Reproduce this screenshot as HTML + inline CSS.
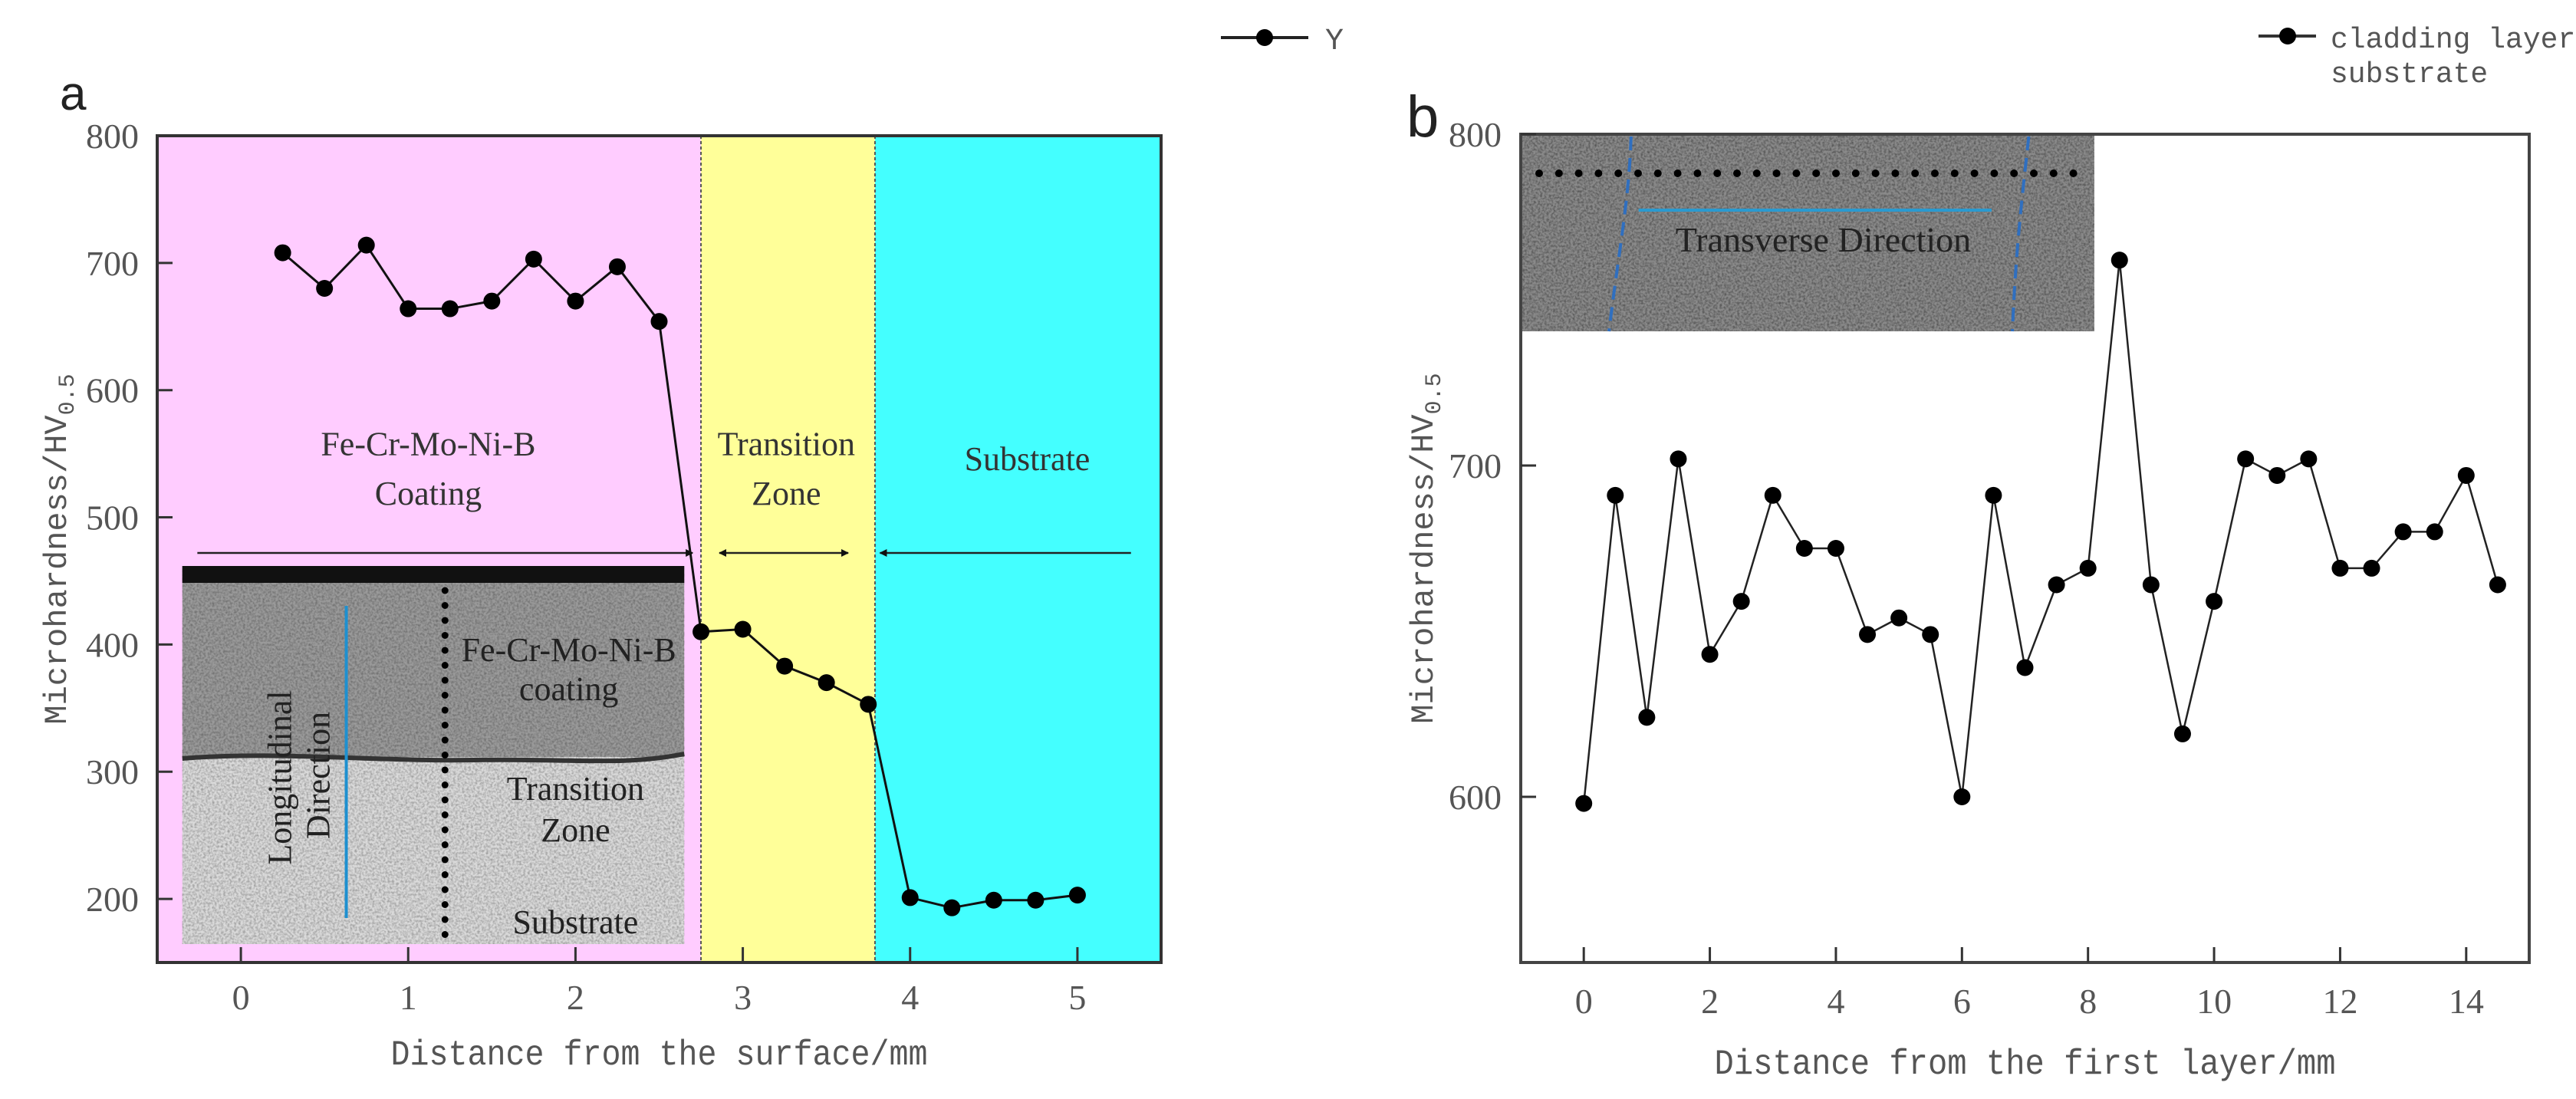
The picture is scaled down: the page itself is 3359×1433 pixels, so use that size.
<!DOCTYPE html>
<html><head><meta charset="utf-8"><style>
html,body{margin:0;padding:0;background:#fff;}
svg{display:block;}
.tick{font-family:"Liberation Serif",serif;font-size:46px;fill:#555;}
.mono{font-family:"Liberation Mono",monospace;fill:#555;}
.ser{font-family:"Liberation Serif",serif;}
</style></head><body>
<svg id="fig" width="3359" height="1433" viewBox="0 0 3359 1433" xmlns="http://www.w3.org/2000/svg">
<defs>
<filter id="noise" x="0" y="0" width="100%" height="100%">
<feTurbulence type="fractalNoise" baseFrequency="0.35" numOctaves="2" seed="3"/>
<feColorMatrix type="matrix" values="0 0 0 0 0  0 0 0 0 0  0 0 0 0 0  0 0 0 -1.4 0.9"/>
</filter>
<marker id="ah" markerWidth="10" markerHeight="10" refX="9" refY="5" orient="auto-start-reverse" markerUnits="userSpaceOnUse"><path d="M0,0 L10,5 L0,10 z" fill="#111"/></marker>
</defs>
<g id="chartA"></g>
<g id="chartB"></g>
</svg>
<script>
const aX=[0.25,0.5,0.75,1,1.25,1.5,1.75,2,2.25,2.5,2.75,3,3.25,3.5,3.75,4,4.25,4.5,4.75,5];
const aY=[708,680,714,664,664,670,703,670,697,654,410,412,383,370,353,201,193,199,199,203];
const aXTicks=[0,1,2,3,4,5];
const aYTicks=[200,300,400,500,600,700,800];
const aZoneBounds=[2.75,3.79];
const bX=[0,0.5,1,1.5,2,2.5,3,3.5,4,4.5,5,5.5,6,6.5,7,7.5,8,8.5,9,9.5,10,10.5,11,11.5,12,12.5,13,13.5,14,14.5];
const bY=[598,691,624,702,643,659,691,675,675,649,654,649,600,691,639,664,669,762,664,619,659,702,697,702,669,669,680,680,697,664];
const bXTicks=[0,2,4,6,8,10,12,14];
const bYTicks=[600,700,800];

const NS="http://www.w3.org/2000/svg";
function el(parent,tag,attrs,text){const e=document.createElementNS(NS,tag);for(const k in attrs)e.setAttribute(k,attrs[k]);if(text!==undefined)e.textContent=text;parent.appendChild(e);return e;}

// ---------- Chart A ----------
const A={L:205,R:1514,T:177,B:1255,x0:-0.5,x1:5.5,y0:150,y1:800};
const ax=v=>A.L+(v-A.x0)/(A.x1-A.x0)*(A.R-A.L);
const ay=v=>A.B-(v-A.y0)/(A.y1-A.y0)*(A.B-A.T);
const gA=document.getElementById('chartA');
let r;
r=el(gA,'rect',{x:A.L,y:A.T,width:ax(aZoneBounds[0])-A.L,height:A.B-A.T,fill:'#ffccff'});

r=el(gA,'rect',{x:ax(aZoneBounds[0]),y:A.T,width:ax(aZoneBounds[1])-ax(aZoneBounds[0]),height:A.B-A.T,fill:'#ffff99'});

r=el(gA,'rect',{x:ax(aZoneBounds[1]),y:A.T,width:A.R-ax(aZoneBounds[1]),height:A.B-A.T,fill:'#44ffff'});

aZoneBounds.forEach(b=>{const l=el(gA,'line',{x1:ax(b),x2:ax(b),y1:A.T,y2:A.B,stroke:'#555','stroke-width':2,'stroke-dasharray':'4,3'});
});

// inset photo a
const ia=el(gA,'g',{});

const IL=ax(-0.35),IR=ax(2.65),IT=738,IB=1231,IF=987;
el(ia,'rect',{x:IL,y:IT,width:IR-IL,height:IF-IT,fill:'#9a9a9a'});
el(ia,'rect',{x:IL,y:IF,width:IR-IL,height:IB-IF,fill:'#dadada'});
el(ia,'rect',{x:IL,y:IT,width:IR-IL,height:IB-IT,filter:'url(#noise)',opacity:0.4});
el(ia,'rect',{x:IL,y:IT,width:IR-IL,height:22,fill:'#111'});
el(ia,'path',{d:`M${IL},${IF+2} C${IL+120},${IF-8} ${IL+250},${IF+6} ${IL+380},${IF+4} S${IR-80},${IF+12} ${IR},${IF-4}`,stroke:'#333','stroke-width':6,fill:'none'});
el(ia,'line',{x1:ax(0.63),x2:ax(0.63),y1:790,y2:1197,stroke:'#1e90d0','stroke-width':4});
for(let y=770;y<=1229;y+=19.5) el(ia,'circle',{cx:ax(1.22),cy:y,r:4.5,fill:'#000'});
const tI=[["Fe-Cr-Mo-Ni-B",1.96,862],["coating",1.96,913],["Transition",2.0,1043],["Zone",2.0,1097],["Substrate",2.0,1217]];
tI.forEach(t=>{const e=el(ia,'text',{x:ax(t[1]),y:t[2],'text-anchor':'middle','font-size':44,fill:'#222',class:'ser'},t[0]);
});
let lt=el(ia,'text',{x:0,y:0,'text-anchor':'middle','font-size':44,fill:'#222',class:'ser',transform:`translate(${ax(0.3)},1014) rotate(-90)`},'Longitudinal');

lt=el(ia,'text',{x:0,y:0,'text-anchor':'middle','font-size':44,fill:'#222',class:'ser',transform:`translate(${ax(0.53)},1011) rotate(-90)`},'Direction');


// zone labels & arrows
const zl=[["Fe-Cr-Mo-Ni-B",1.12,558],["Coating",1.12,519],["Transition",3.26,558],["Zone",3.26,519],["Substrate",4.70,546]];
zl.forEach(z=>{const e=el(gA,'text',{x:ax(z[1]),y:ay(z[2])+15,'text-anchor':'middle','font-size':44,fill:'#333',class:'ser'},z[0]);
});
const arrY=ay(472);
let ar=el(gA,'line',{x1:ax(-0.26),x2:ax(2.7),y1:arrY,y2:arrY,stroke:'#222','stroke-width':2.5,'marker-end':'url(#ah)'});

ar=el(gA,'line',{x1:ax(2.86),x2:ax(3.63),y1:arrY,y2:arrY,stroke:'#222','stroke-width':2.5,'marker-end':'url(#ah)','marker-start':'url(#ah)'});

ar=el(gA,'line',{x1:ax(5.32),x2:ax(3.82),y1:arrY,y2:arrY,stroke:'#222','stroke-width':2.5,'marker-end':'url(#ah)'});


// series a
let pa=el(gA,'polyline',{points:aX.map((x,i)=>ax(x)+','+ay(aY[i])).join(' '),fill:'none',stroke:'#111','stroke-width':3});

aX.forEach((x,i)=>{const c=el(gA,'circle',{cx:ax(x),cy:ay(aY[i]),r:11,fill:'#000'});
});

// axes a
let fr=el(gA,'rect',{x:A.L,y:A.T,width:A.R-A.L,height:A.B-A.T,fill:'none',stroke:'#333','stroke-width':4});

aXTicks.forEach(t=>{el(gA,'line',{x1:ax(t),x2:ax(t),y1:A.B,y2:A.B-20,stroke:'#333','stroke-width':3});
const e=el(gA,'text',{x:ax(t),y:A.B+61,'text-anchor':'middle',class:'tick'},t);
});
aYTicks.forEach(t=>{el(gA,'line',{x1:A.L,x2:A.L+20,y1:ay(t),y2:ay(t),stroke:'#333','stroke-width':3});
const e=el(gA,'text',{x:181,y:ay(t)+16,'text-anchor':'end',class:'tick'},t);
});
let xt=el(gA,'text',{x:ax(2.5),y:1388,'text-anchor':'middle','font-size':46,class:'mono',textLength:700,lengthAdjust:'spacingAndGlyphs'},'Distance from the surface/mm');

let yt=el(gA,'text',{x:0,y:0,'text-anchor':'middle','font-size':42,class:'mono',transform:`translate(86,${(A.T+A.B)/2}) rotate(-90)`});
yt.innerHTML='Microhardness/HV<tspan font-size="30" dy="10">0.5</tspan>';

let pl=el(gA,'text',{x:78,y:143,'font-size':62,fill:'#222','font-family':'Liberation Sans, sans-serif'},'a');

// legend a
const lgA=el(gA,'g',{});

el(lgA,'line',{x1:1592,x2:1706,y1:49,y2:49,stroke:'#222','stroke-width':4});
el(lgA,'circle',{cx:1649,cy:49,r:11,fill:'#000'});
el(lgA,'text',{x:1728,y:64,'font-size':40,class:'mono'},'Y');

// ---------- Chart B ----------
const B={L:1983,R:3298,T:175,B:1255,x0:-1,x1:15,y0:550,y1:800};
const bx=v=>B.L+(v-B.x0)/(B.x1-B.x0)*(B.R-B.L);
const by=v=>B.B-(v-B.y0)/(B.y1-B.y0)*(B.B-B.T);
const gB=document.getElementById('chartB');
const ib=el(gB,'g',{});

const BIR=bx(8.1);
el(ib,'rect',{x:B.L,y:B.T,width:BIR-B.L,height:432-B.T,fill:'#8a8a8a'});
el(ib,'rect',{x:B.L,y:B.T,width:BIR-B.L,height:432-B.T,filter:'url(#noise)',opacity:0.55});
for(let x=2007;x<=bx(7.84);x+=25.8) el(ib,'circle',{cx:x,cy:226,r:5,fill:'#000'});
el(ib,'line',{x1:bx(0.87),x2:bx(6.47),y1:274,y2:274,stroke:'#2a9ad0','stroke-width':4});
el(ib,'path',{d:`M${bx(0.75)},178 C${bx(0.72)},260 ${bx(0.55)},330 ${bx(0.4)},432`,stroke:'#2f6fc0','stroke-width':4,fill:'none','stroke-dasharray':'18,10'});
el(ib,'path',{d:`M${bx(7.06)},178 C${bx(6.95)},260 ${bx(6.85)},330 ${bx(6.8)},432`,stroke:'#2f6fc0','stroke-width':4,fill:'none','stroke-dasharray':'18,10'});
let tt=el(ib,'text',{x:bx(3.8),y:328,'text-anchor':'middle','font-size':46,fill:'#222',class:'ser'},'Transverse Direction');


let pb=el(gB,'polyline',{points:bX.map((x,i)=>bx(x)+','+by(bY[i])).join(' '),fill:'none',stroke:'#222','stroke-width':2.5});

bX.forEach((x,i)=>{const c=el(gB,'circle',{cx:bx(x),cy:by(bY[i]),r:11,fill:'#000'});
});

fr=el(gB,'rect',{x:B.L,y:B.T,width:B.R-B.L,height:B.B-B.T,fill:'none',stroke:'#444','stroke-width':4});

bXTicks.forEach(t=>{el(gB,'line',{x1:bx(t),x2:bx(t),y1:B.B,y2:B.B-20,stroke:'#333','stroke-width':3});
const e=el(gB,'text',{x:bx(t),y:B.B+66,'text-anchor':'middle',class:'tick'},t);
});
bYTicks.forEach(t=>{el(gB,'line',{x1:B.L,x2:B.L+20,y1:by(t),y2:by(t),stroke:'#333','stroke-width':3});
const e=el(gB,'text',{x:1958,y:by(t)+16,'text-anchor':'end',class:'tick'},t);
});
xt=el(gB,'text',{x:bx(7),y:1400,'text-anchor':'middle','font-size':46,class:'mono',textLength:810,lengthAdjust:'spacingAndGlyphs'},'Distance from the first layer/mm');

yt=el(gB,'text',{x:0,y:0,'text-anchor':'middle','font-size':42,class:'mono',transform:`translate(1868,${(B.T+B.B)/2}) rotate(-90)`});
yt.innerHTML='Microhardness/HV<tspan font-size="30" dy="10">0.5</tspan>';

pl=el(gB,'text',{x:1834,y:178,'font-size':76,fill:'#222','font-family':'Liberation Sans, sans-serif'},'b');

const lgB=el(gB,'g',{});

el(lgB,'line',{x1:2945,x2:3020,y1:47,y2:47,stroke:'#333','stroke-width':4});
el(lgB,'circle',{cx:2983,cy:47,r:11,fill:'#000'});
el(lgB,'text',{x:3039,y:62,'font-size':38,class:'mono'},'cladding layer');
el(lgB,'text',{x:3039,y:107,'font-size':38,class:'mono'},'substrate');
</script>
</body></html>
